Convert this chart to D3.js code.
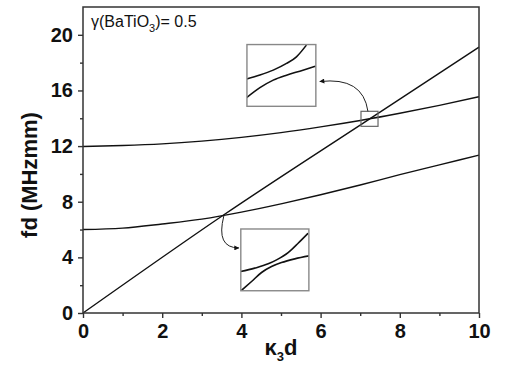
<!DOCTYPE html>
<html>
<head>
<meta charset="utf-8">
<script src="https://cdn.jsdelivr.net/npm/d3@7"></script>
<style>
body { margin: 0; background: #fff; }
text { font-family: "Liberation Sans", Arial, sans-serif; }
</style>
</head>
<body>
<svg id="chart" width="505" height="373"></svg>
<script>
// values
const kd = [0, 1, 2, 3, 4, 5, 6, 7, 8, 9, 10];
const upperMode = [11.97, 12.04, 12.16, 12.36, 12.63, 12.97, 13.38, 13.84, 14.36, 14.93, 15.55];
const lowerMode = [6.0, 6.1, 6.4, 6.75, 7.25, 7.85, 8.5, 9.2, 9.95, 10.65, 11.35];
const lineK = [0, 3.54, 7.25, 10];
const lineFd = [0, 7.03, 13.98, 19.11];

// zoomed anti-crossing near (7.2, 14)
const zoomUpperK = [7.018, 7.101, 7.184, 7.267, 7.329, 7.391];
const zoomUpperA = [13.896, 13.966, 14.053, 14.17, 14.286, 14.49];
const zoomUpperK2 = [7.018, 7.101, 7.184, 7.267, 7.35, 7.45];
const zoomUpperB = [13.572, 13.746, 13.878, 13.965, 14.035, 14.122];
// zoomed anti-crossing near (3.55, 7)
const zoomLowerK = [3.358, 3.448, 3.533, 3.586, 3.659, 3.722, 3.785];
const zoomLowerA = [6.842, 6.903, 6.979, 7.05, 7.179, 7.346, 7.524];
const zoomLowerK2 = [3.364, 3.428, 3.491, 3.554, 3.617, 3.701, 3.792];
const zoomLowerB = [6.505, 6.665, 6.825, 6.931, 7.002, 7.068, 7.121];

const xTicks = [0, 2, 4, 6, 8, 10];
const yTicks = [0, 4, 8, 12, 16, 20];

const margin = {top: 7, right: 26, bottom: 60, left: 83},
    width = 505 - margin.left - margin.right,
    height = 373 - margin.top - margin.bottom;

const svg = d3.select("#chart");
const g = svg.append("g").attr("transform", "translate(" + margin.left + "," + margin.top + ")");

const x = d3.scaleLinear().domain([0, 10]).range([0, width]);
const y = d3.scaleLinear().domain([0, 22]).range([height, 0]);

const toPts = (ks, vs) => ks.map((k, i) => ({k: k, v: vs[i]}));

function curve(xs, ys) {
    return d3.line().x(d => xs(d.k)).y(d => ys(d.v)).curve(d3.curveMonotoneX);
}

// arrowhead
svg.append("defs").append("marker")
    .attr("id", "head")
    .attr("viewBox", "0 0 10 10")
    .attr("refX", 9).attr("refY", 5)
    .attr("markerWidth", 6).attr("markerHeight", 5)
    .attr("markerUnits", "userSpaceOnUse")
    .attr("orient", "auto")
    .append("path").attr("d", "M0,0L10,5L0,10z").attr("fill", "#111");

// main curves
const mainLine = curve(x, y);
[toPts(kd, upperMode), toPts(kd, lowerMode), toPts(lineK, lineFd)].forEach(function (pts) {
    g.append("path").datum(pts).attr("d", mainLine)
        .attr("fill", "none").attr("stroke", "#111").attr("stroke-width", 1.4);
});

// zoom box around the upper crossing
const boxK = [7.02, 7.45], boxFd = [13.42, 14.5];
g.append("rect")
    .attr("x", x(boxK[0])).attr("y", y(boxFd[1]))
    .attr("width", x(boxK[1]) - x(boxK[0])).attr("height", y(boxFd[0]) - y(boxFd[1]))
    .attr("fill", "none").attr("stroke", "#666").attr("stroke-width", 1.2);

// insets, placed in main data units
const insets = [
    {id: "iu", at: {k: [4.14, 5.88], fd: [14.86, 19.3]}, dom: {k: boxK, fd: boxFd},
     series: [toPts(zoomUpperK, zoomUpperA), toPts(zoomUpperK2, zoomUpperB)]},
    {id: "il", at: {k: [3.985, 5.704], fd: [1.6, 6.04]}, dom: {k: [3.36, 3.79], fd: [6.5, 7.6]},
     series: [toPts(zoomLowerK, zoomLowerA), toPts(zoomLowerK2, zoomLowerB)]}
];

insets.forEach(function (ins) {
    const x0 = x(ins.at.k[0]), x1 = x(ins.at.k[1]), y0 = y(ins.at.fd[1]), y1 = y(ins.at.fd[0]);
    const ix = d3.scaleLinear().domain(ins.dom.k).range([x0, x1]);
    const iy = d3.scaleLinear().domain(ins.dom.fd).range([y1, y0]);
    g.append("clipPath").attr("id", ins.id)
        .append("rect").attr("x", x0).attr("y", y0).attr("width", x1 - x0).attr("height", y1 - y0);
    g.append("rect").attr("x", x0).attr("y", y0).attr("width", x1 - x0).attr("height", y1 - y0)
        .attr("fill", "#fff");
    ins.series.forEach(function (pts) {
        g.append("path").datum(pts).attr("d", curve(ix, iy))
            .attr("clip-path", "url(#" + ins.id + ")")
            .attr("fill", "none").attr("stroke", "#111").attr("stroke-width", 1.6);
    });
    g.append("rect").attr("x", x0).attr("y", y0).attr("width", x1 - x0).attr("height", y1 - y0)
        .attr("fill", "none").attr("stroke", "#888").attr("stroke-width", 1.4);
});

// curved arrows (start, control, end) in data units
const arrows = [
    [[7.195, 14.5], [7.07, 17.0], [5.98, 16.64]],
    [[3.556, 6.975], [3.35, 4.68], [3.935, 4.68]]
];
arrows.forEach(function (a) {
    const p = d3.path();
    p.moveTo(x(a[0][0]), y(a[0][1]));
    p.quadraticCurveTo(x(a[1][0]), y(a[1][1]), x(a[2][0]), y(a[2][1]));
    g.append("path").attr("d", p.toString())
        .attr("fill", "none").attr("stroke", "#222").attr("stroke-width", 1)
        .attr("marker-end", "url(#head)");
});

// axes
const xAxis = d3.axisBottom(x).tickValues(xTicks).tickSize(5).tickPadding(6).tickFormat(d3.format("d"));
const xMinor = d3.axisBottom(x).tickValues([1, 3, 5, 7, 9]).tickSize(3).tickFormat("");
const yAxis = d3.axisLeft(y).tickValues(yTicks).tickSize(5).tickPadding(5).tickFormat(d3.format("d"));
const yMinor = d3.axisLeft(y).tickValues([2, 6, 10, 14, 18]).tickSize(3).tickFormat("");

[[xAxis, true], [xMinor, true], [yAxis, false], [yMinor, false]].forEach(function (ax) {
    const a = g.append("g").attr("transform", ax[1] ? "translate(0," + height + ")" : null).call(ax[0]);
    a.select(".domain").remove();
    a.selectAll("line").attr("stroke", "#333").attr("stroke-width", 1.4);
    a.selectAll("text").attr("font-size", 20).attr("font-weight", "bold").attr("fill", "#111")
        .style("font-family", '"Liberation Sans", Arial, sans-serif');
});

// frame
g.append("rect").attr("width", width).attr("height", height)
    .attr("fill", "none").attr("stroke", "#333").attr("stroke-width", 1.5);

// axis titles
g.append("text")
    .attr("transform", "translate(" + (-54) + "," + (height / 2 + 15) + ") rotate(-90)")
    .attr("text-anchor", "middle").attr("dy", "0.35em")
    .attr("font-size", 22).attr("font-weight", "bold").attr("fill", "#111")
    .text("fd (MHzmm)");

const xt = g.append("text")
    .attr("x", width / 2).attr("y", height + 42)
    .attr("text-anchor", "middle")
    .attr("font-size", 22).attr("font-weight", "bold").attr("fill", "#111");
xt.append("tspan").text("κ");
xt.append("tspan").attr("font-size", 13).attr("dy", 6).text("3");
xt.append("tspan").attr("dy", -6).text("d");

// parameter note
const note = g.append("text")
    .attr("x", 8).attr("y", 20)
    .attr("font-size", 16).attr("fill", "#111");
note.append("tspan").text("γ(BaTiO");
note.append("tspan").attr("font-size", 11).attr("dy", 5).text("3");
note.append("tspan").attr("dy", -5).text(")= 0.5");
</script>
</body>
</html>
